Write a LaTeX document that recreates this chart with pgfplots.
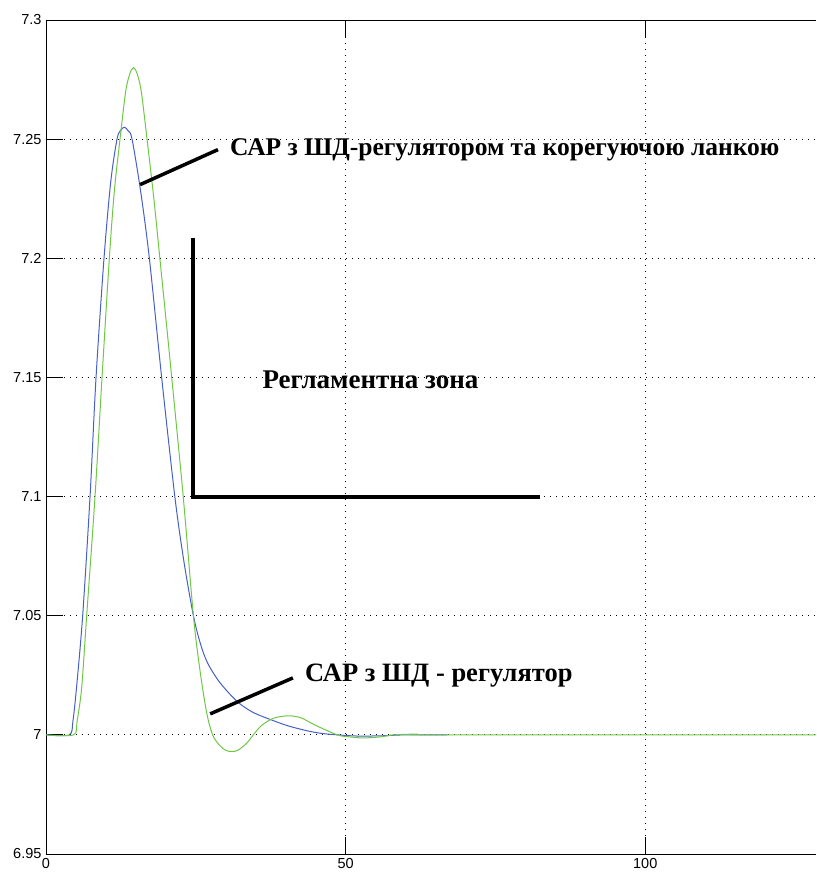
\documentclass[border=0pt]{standalone}
\usepackage{pgfplots}
\pgfplotsset{compat=1.18}
\usepackage{fontspec}
\setmainfont{Liberation Sans}
\newfontfamily\tnr{Liberation Serif}
\definecolor{cblue}{RGB}{70,96,200}
\definecolor{cgreen}{RGB}{110,200,70}
\begin{document}
\begin{tikzpicture}
\begin{axis}[
  scale only axis,
  width=770pt, height=834pt,
  xmin=0, xmax=128.5, ymin=6.95, ymax=7.3,
  axis x line*=box, axis y line*=left,
  axis line style={black, line width=0.9pt},
  xtick={0,50,100}, xticklabels={0,50,100},
  ytick={6.95,7,7.05,7.1,7.15,7.2,7.25,7.3},
  yticklabels={6.95,7,7.05,7.1,7.15,7.2,7.25,7.3},
  tick align=inside, major tick length=17pt,
  tick style={black, line width=0.9pt},
  xmajorgrids, ymajorgrids,
  major grid style={black, line width=0.8pt, dash pattern=on 0.8pt off 5.2pt},
  ticklabel style={font=\fontsize{14.5}{16}\selectfont},
  /pgf/number format/assume math mode=true,
  yticklabel style={xshift=-1pt},
  xticklabel style={yshift=-1pt},
  clip=true,
]
\addplot[cblue, line width=1pt, smooth] coordinates {
(0,7) (3.9,7) (4.5,7.006) (5.1,7.02) (6.12,7.05) (7.35,7.1) (8.35,7.15) (9.68,7.2) (10.8,7.232) (11.85,7.25) (12.5,7.2538) (13.1,7.255) (13.7,7.2535) (14.36,7.25) (15.8,7.228) (17.25,7.2) (19.3,7.15) (21.5,7.1) (23.0,7.073) (24.6,7.05) (25.8,7.038) (27.0,7.03) (29,7.022) (31.9,7.014) (34.5,7.0095) (37.9,7.006) (40.5,7.0037) (43.6,7.0017) (46,7.0006) (48.6,7.0) (52,6.9995) (56,6.9996) (60,7.0) (67,7.0)
};
\addplot[cgreen, line width=1pt, smooth] coordinates {
(0,7) (4.6,7) (5.2,7.006) (5.96,7.02) (6.79,7.05) (8.18,7.1) (9.35,7.15) (10.57,7.2) (11.4,7.228) (12.35,7.25) (13.3,7.27) (14.0,7.2775) (14.6,7.28) (15.2,7.2775) (15.9,7.27) (16.86,7.25) (18.0,7.225) (19.0,7.2) (20.0,7.175) (20.98,7.15) (22.9,7.1) (24.6,7.05) (25.7,7.027) (26.8,7.0095) (27.8,7.0) (29,6.9955) (30,6.9935) (31,6.993) (32,6.9935) (33.5,6.9965) (34.6,7.0) (36,7.004) (38,7.007) (40.4,7.008) (42.5,7.0072) (45,7.004) (48.6,7.0) (50.5,6.9992) (53,6.9987) (56,6.9992) (58,7.0) (62,7.0003) (66,7.0) (128.5,7)
};
% annotation pointer lines
\addplot[black, line width=3.5pt] coordinates {(15.7,7.2309) (28.7,7.2456)};
\addplot[black, line width=3.5pt] coordinates {(27.4,7.0088) (41.2,7.0239)};
% regulatory zone
\addplot[black, line width=4pt] coordinates {(24.5,7.2087) (24.5,7.1) (82.5,7.1)};
\node[anchor=west, inner sep=0pt, font=\tnr\bfseries\fontsize{25.5}{27}\selectfont] at (axis cs:30.7,7.2456) {САР з ШД-регулятором та корегуючою ланкою};
\node[anchor=west, inner sep=0pt, font=\tnr\bfseries\fontsize{27}{29}\selectfont] at (axis cs:36.1,7.1492) {Регламентна зона};
\node[anchor=west, inner sep=0pt, font=\tnr\bfseries\fontsize{26.5}{28}\selectfont] at (axis cs:43.2,7.0247) {САР з ШД - регулятор};
\end{axis}
\pgfresetboundingbox
\path ([xshift=-46pt,yshift=-22pt]current axis.south west) rectangle ([yshift=20pt]current axis.north east);
\end{tikzpicture}
\end{document}
